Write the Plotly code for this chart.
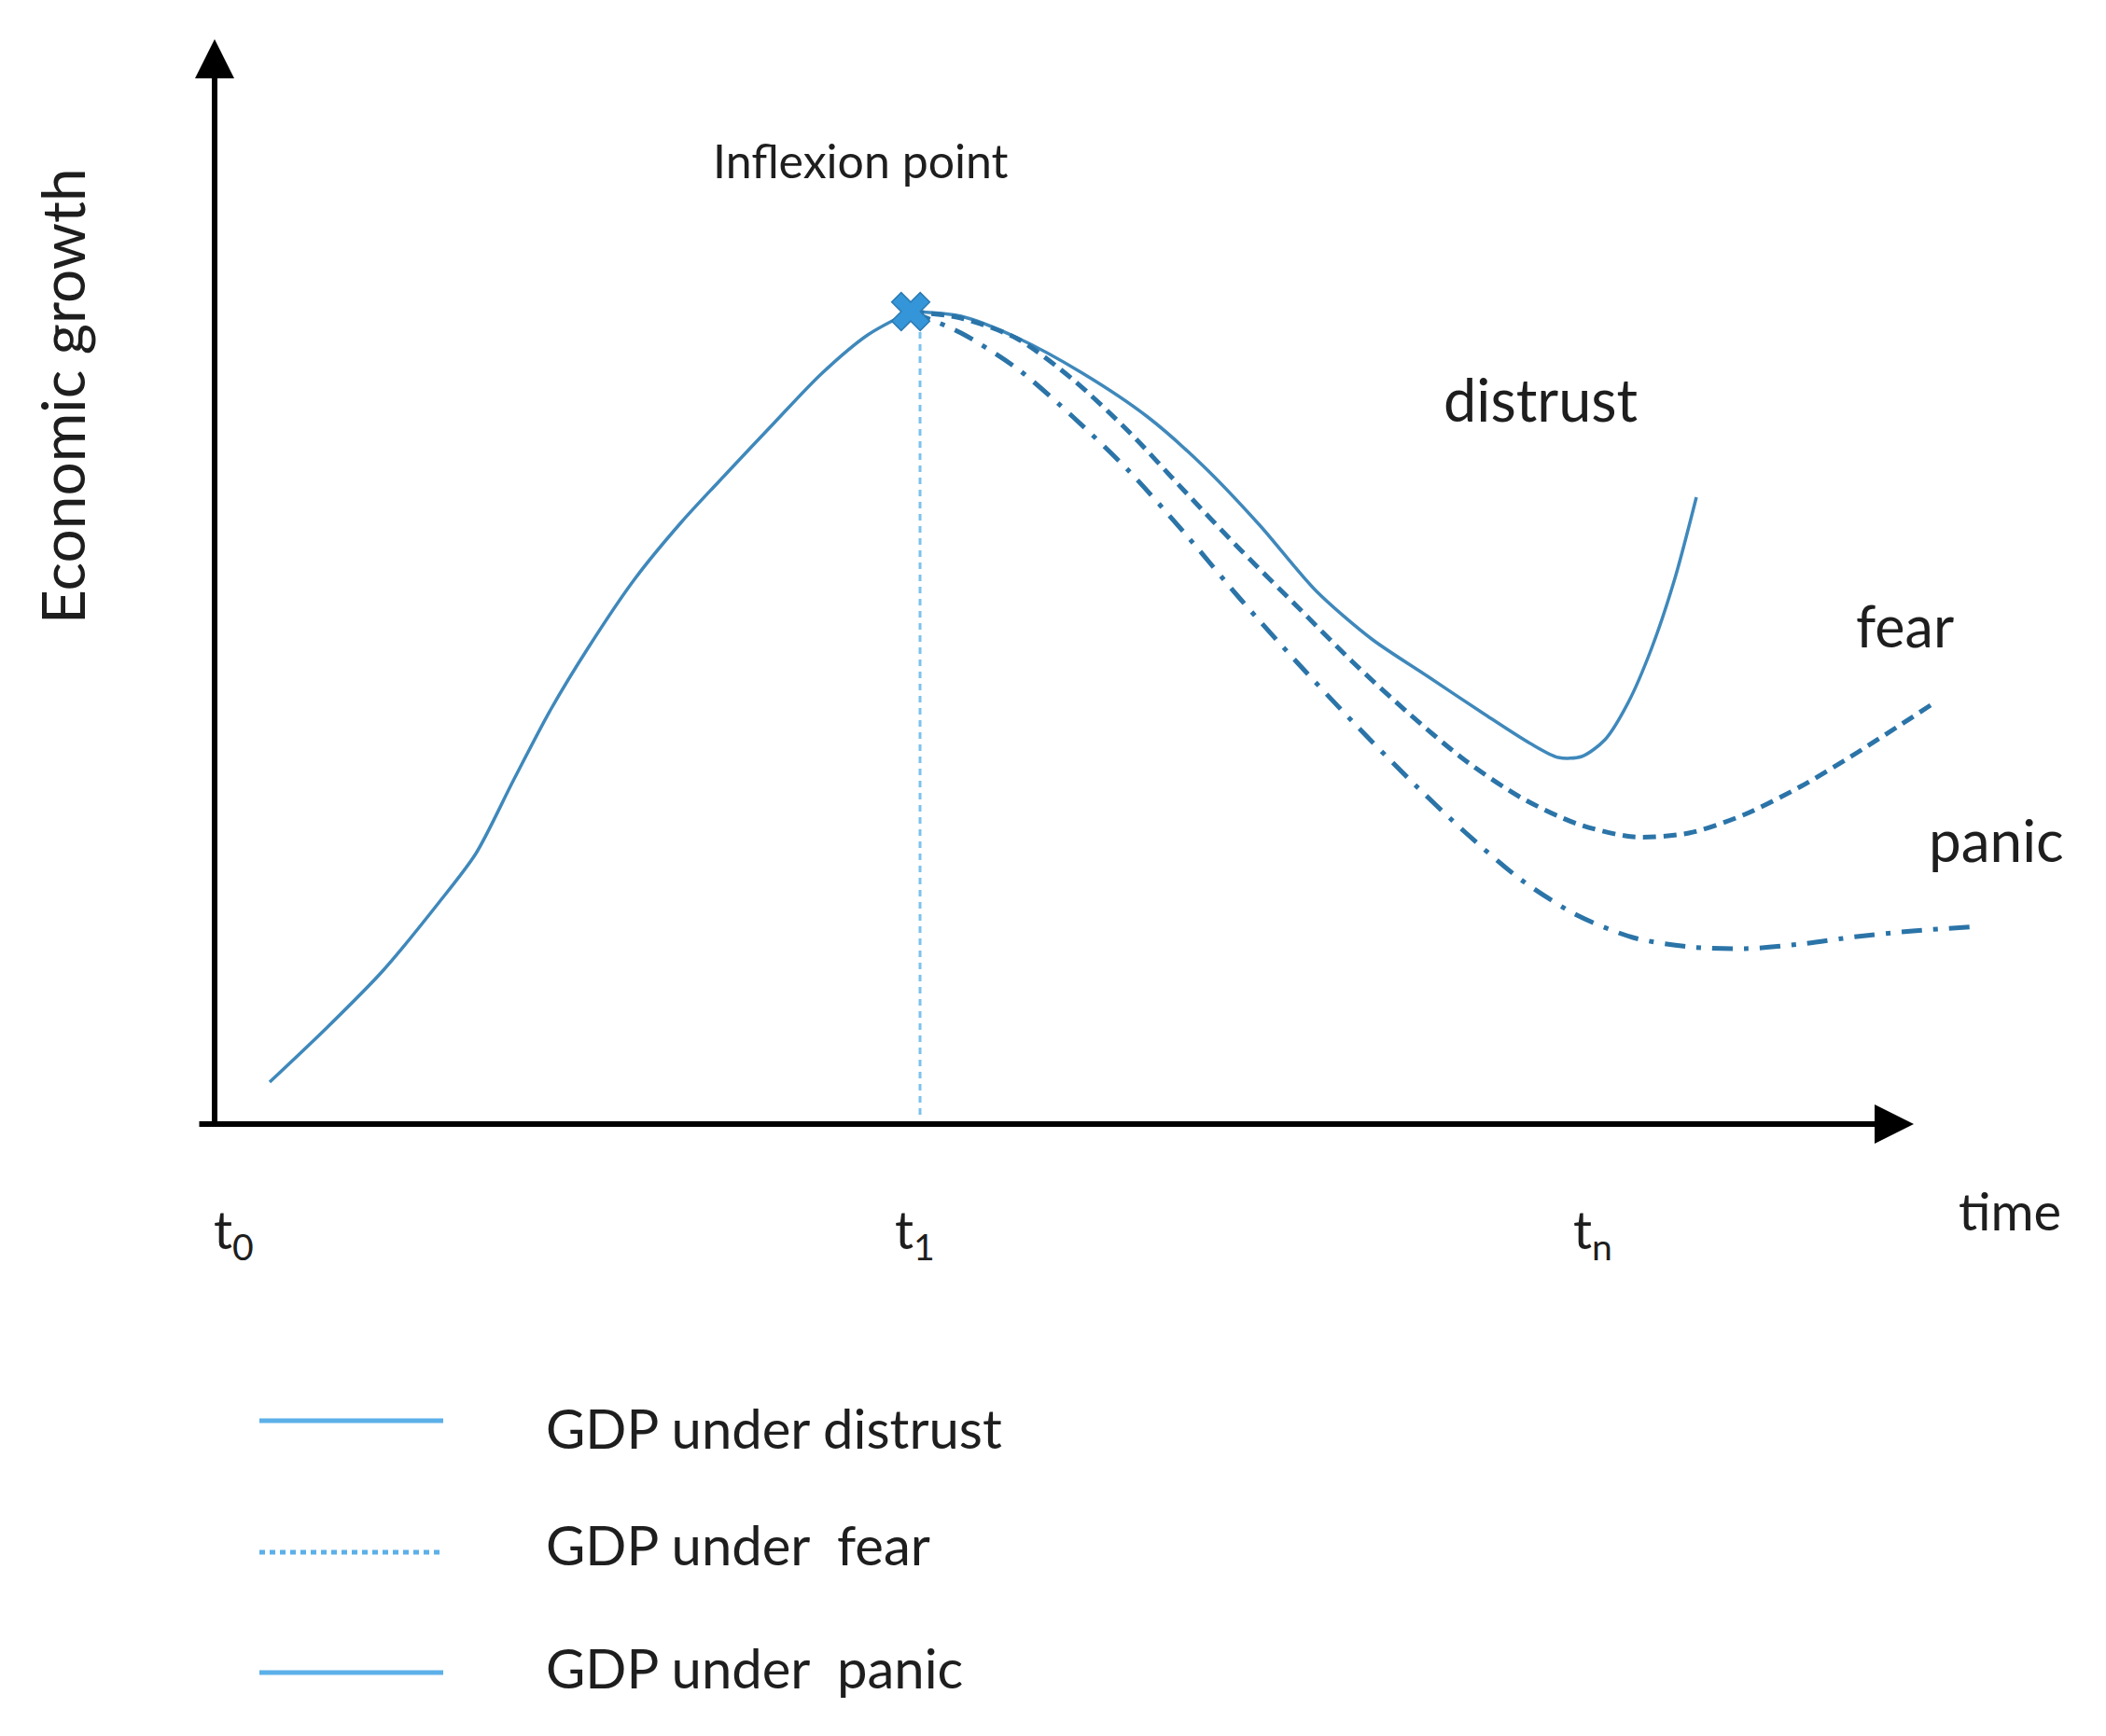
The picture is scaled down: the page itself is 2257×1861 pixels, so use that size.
import plotly.graph_objects as go

# time (x) and economic growth (y), arbitrary units
rise_t = [0.59, 1.20, 1.80, 2.40, 2.80, 3.20, 3.60, 4.00, 4.50, 5.00, 5.50, 6.00, 6.50, 7.00, 7.46]
rise_g = [0.45, 1.03, 1.64, 2.37, 2.90, 3.68, 4.44, 5.10, 5.84, 6.45, 6.99, 7.52, 8.04, 8.46, 8.71]

distrust_t = [7.46, 8.00, 8.60, 9.30, 10.00, 10.60, 11.20, 11.80, 12.40, 13.00, 13.60, 14.10, 14.40, 14.65, 14.90, 15.15, 15.40, 15.65, 15.88]
distrust_g = [8.71, 8.66, 8.43, 8.05, 7.58, 7.05, 6.42, 5.72, 5.20, 4.80, 4.40, 4.08, 3.93, 3.94, 4.12, 4.52, 5.10, 5.85, 6.72]

fear_t = [7.46, 8.00, 8.60, 9.20, 9.80, 10.40, 11.00, 11.60, 12.20, 12.80, 13.40, 14.00, 14.60, 15.20, 15.80, 16.40, 17.00, 17.60, 18.39]
fear_g = [8.71, 8.64, 8.42, 7.98, 7.42, 6.78, 6.15, 5.55, 4.95, 4.40, 3.90, 3.50, 3.22, 3.08, 3.12, 3.32, 3.62, 3.98, 4.49]

panic_t = [7.46, 8.00, 8.60, 9.20, 9.80, 10.40, 11.00, 11.60, 12.20, 12.80, 13.40, 14.00, 14.60, 15.20, 15.80, 16.40, 17.00, 17.60, 18.20, 18.92]
panic_g = [8.71, 8.48, 8.10, 7.58, 7.00, 6.33, 5.62, 4.95, 4.31, 3.70, 3.13, 2.62, 2.24, 2.00, 1.90, 1.88, 1.93, 2.01, 2.07, 2.12]

# inflexion point and its drop line
peak_t, peak_g = 7.46, 8.71
drop_t = [7.56, 7.56]
drop_g = [8.62, 0.08]

# axis extents
t_max, g_max = 18.21, 11.63

tick_pos = [0.20, 7.50, 14.77]
tick_text = ["t<sub>0</sub>", "t<sub>1</sub>", "t<sub>n</sub>"]

legend_names = ["GDP under distrust", "GDP under  fear", "GDP under  panic"]
legend_dash = ["solid", "6px,5px", "solid"]
legend_g = [-3.18, -4.59, -5.88]
legend_text_g = [-3.25, -4.50, -5.82]

curve_col = "#3f88bb"
dark_col = "#2b74a8"
light_col = "#5cb0e8"
text_col = "#1e1e1e"
FONT = "Lato"

fig = go.Figure()

fig.add_trace(go.Scatter(x=drop_t, y=drop_g, mode="lines",
                         line=dict(color="#7cc2ee", width=3, dash="7px,6px")))
fig.add_trace(go.Scatter(x=rise_t, y=rise_g, mode="lines",
                         line=dict(color=curve_col, width=3.5, shape="spline", smoothing=0.8)))
fig.add_trace(go.Scatter(x=distrust_t, y=distrust_g, mode="lines",
                         line=dict(color=curve_col, width=3.5, shape="spline", smoothing=0.8)))
fig.add_trace(go.Scatter(x=fear_t, y=fear_g, mode="lines",
                         line=dict(color=dark_col, width=5, shape="spline", smoothing=0.8, dash="14px,8px")))
fig.add_trace(go.Scatter(x=panic_t, y=panic_g, mode="lines",
                         line=dict(color=dark_col, width=5, shape="spline", smoothing=0.8,
                                   dash="22px,12px,5px,12px")))
fig.add_trace(go.Scatter(x=[peak_t], y=[peak_g], mode="markers",
                         marker=dict(symbol="x", size=36, color="#3496d8",
                                     line=dict(color="#2a7ab3", width=1.5))))

# axes drawn as arrows (tiny font so the empty text box does not cut the arrow)
fig.add_annotation(x=0, y=g_max, ax=0, ay=-0.03, xref="x", yref="y", axref="x", ayref="y",
                   text="", font=dict(size=1), borderpad=0, showarrow=True,
                   arrowhead=2, arrowsize=1.4, arrowwidth=6, arrowcolor="#000")
fig.add_annotation(x=t_max, y=0, ax=-0.17, ay=0, xref="x", yref="y", axref="x", ayref="y",
                   text="", font=dict(size=1), borderpad=0, showarrow=True,
                   arrowhead=2, arrowsize=1.4, arrowwidth=6, arrowcolor="#000")

for p, t in zip(tick_pos, tick_text):
    fig.add_annotation(x=p, y=-1.16, text=t, showarrow=False,
                       font=dict(family=FONT, size=56, color=text_col))

labels = [
    ("Inflexion point", 6.92, 10.33, 50),
    ("distrust", 14.21, 7.78, 63),
    ("fear", 18.11, 5.35, 61),
    ("panic", 19.09, 3.05, 62),
    ("time", 19.24, -0.92, 56),
]
for txt, x, y, s in labels:
    fig.add_annotation(x=x, y=y, text=txt, showarrow=False,
                       font=dict(family=FONT, size=s, color=text_col))

fig.add_annotation(x=-1.64, y=7.80, text="Economic growth", textangle=-90, showarrow=False,
                   font=dict(family=FONT, size=64, color=text_col))

# hand-made legend
for name, dash, g, tg in zip(legend_names, legend_dash, legend_g, legend_text_g):
    fig.add_trace(go.Scatter(x=[0.48, 2.45], y=[g, g], mode="lines",
                             line=dict(color=light_col, width=5, dash=dash)))
    fig.add_annotation(x=3.53, y=tg, text=name, showarrow=False, xanchor="left",
                       font=dict(family=FONT, size=58, color=text_col))

# the page body has an 8px margin, so the figure is 8px smaller and ranges start 8px in
fig.update_layout(
    width=2249, height=1853,
    margin=dict(l=0, r=0, t=0, b=0),
    paper_bgcolor="white", plot_bgcolor="white",
    showlegend=False,
    xaxis=dict(range=[-2.22, 20.27], visible=False),
    yaxis=dict(range=[-6.56, 11.97], visible=False),
)

fig.write_html("out.html")
